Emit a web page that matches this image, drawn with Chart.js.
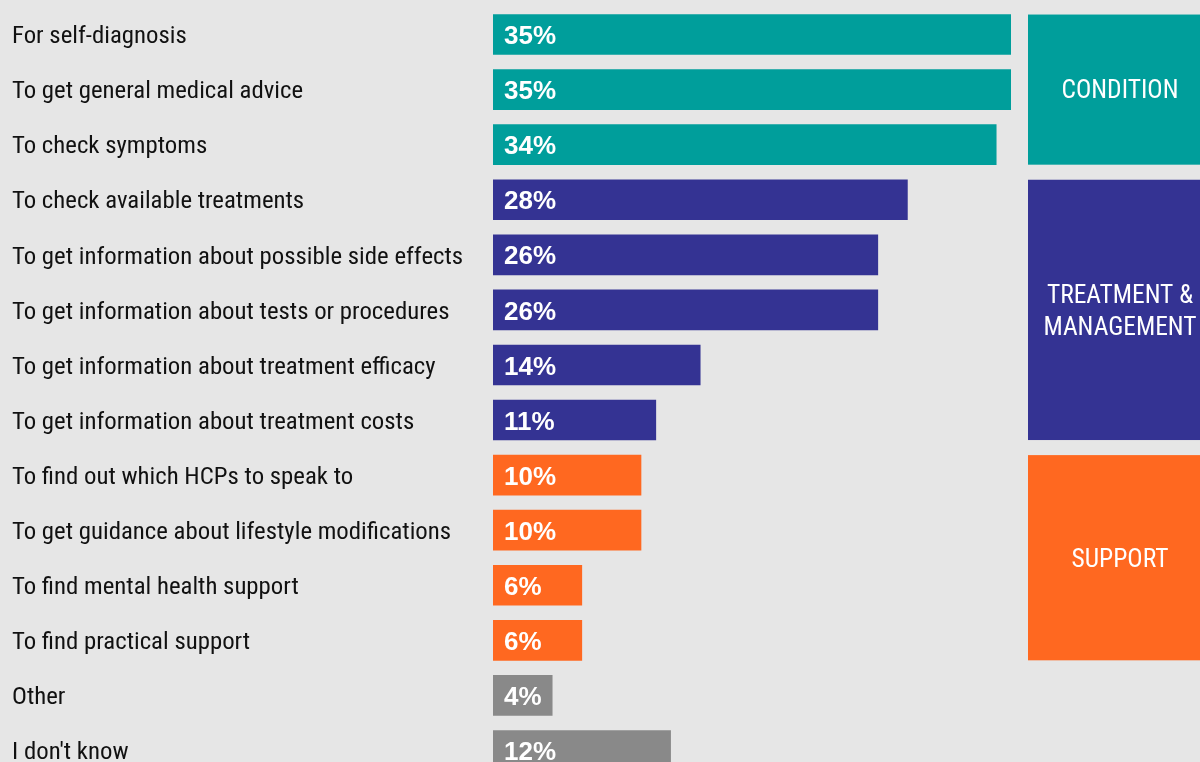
<!DOCTYPE html>
<html>
<head>
<meta charset="utf-8">
<script src="https://cdn.jsdelivr.net/npm/chart.js@4"></script>
<style>
html,body{margin:0;padding:0;background:#e6e6e6;overflow:hidden;width:1200px;height:762px;}
#wrap{position:relative;width:1200px;height:784px;}
canvas{display:block;}
</style>
</head>
<body>
<div id="wrap"><canvas id="c" width="1200" height="784"></canvas></div>
<script>
const categories = [
  "For self-diagnosis",
  "To get general medical advice",
  "To check symptoms",
  "To check available treatments",
  "To get information about possible side effects",
  "To get information about tests or procedures",
  "To get information about treatment efficacy",
  "To get information about treatment costs",
  "To find out which HCPs to speak to",
  "To get guidance about lifestyle modifications",
  "To find mental health support",
  "To find practical support",
  "Other",
  "I don't know"
];
const values = [35, 35, 34, 28, 26, 26, 14, 11, 10, 10, 6, 6, 4, 12];
const TEAL = "#009e9b", PURPLE = "#343393", ORANGE = "#ff6820", GREY = "#898989";
const barColors = [TEAL, TEAL, TEAL, PURPLE, PURPLE, PURPLE, PURPLE, PURPLE, ORANGE, ORANGE, ORANGE, ORANGE, GREY, GREY];
const groupNames = [["CONDITION"], ["TREATMENT &", "MANAGEMENT"], ["SUPPORT"]];
const groupFirst = [0, 3, 8];
const groupLast = [2, 7, 11];
const groupColors = [TEAL, PURPLE, ORANGE];

const LABEL_FONT = "'Roboto Condensed', 'Liberation Sans', sans-serif";
const BAR_THICK = 40;

const valueLabels = {
  id: 'valueLabels',
  afterDatasetsDraw(chart) {
    const ctx = chart.ctx;
    const meta = chart.getDatasetMeta(0);
    ctx.save();
    ctx.fillStyle = '#ffffff';
    ctx.font = "bold 26px 'Liberation Sans', Arial, sans-serif";
    ctx.textAlign = 'left';
    ctx.textBaseline = 'middle';
    meta.data.forEach((bar, i) => {
      ctx.fillText(values[i] + '%', bar.base + 11, bar.y + 2.5);
    });
    ctx.restore();
  }
};

const groupBlocks = {
  id: 'groupBlocks',
  afterDatasetsDraw(chart) {
    const ctx = chart.ctx;
    const y = chart.scales.y;
    const left = chart.chartArea.right + 17;
    const right = chart.width;
    ctx.save();
    groupNames.forEach((lines, g) => {
      const top = y.getPixelForValue(groupFirst[g]) - BAR_THICK / 2;
      const bottom = y.getPixelForValue(groupLast[g]) + BAR_THICK / 2;
      ctx.fillStyle = groupColors[g];
      ctx.fillRect(left, top, right - left, bottom - top);
      ctx.fillStyle = '#ffffff';
      ctx.font = "25.5px " + LABEL_FONT;
      ctx.textAlign = 'center';
      ctx.textBaseline = 'middle';
      const cx = left + 92;
      const cy = (top + bottom) / 2;
      const lh = 32;
      lines.forEach((t, k) => {
        ctx.fillText(t, cx, cy + 2.5 + (k - (lines.length - 1) / 2) * lh);
      });
    });
    ctx.restore();
  }
};

new Chart(document.getElementById('c'), {
  type: 'bar',
  data: {
    labels: categories,
    datasets: [{
      data: values,
      backgroundColor: barColors,
      borderWidth: 0,
      barThickness: BAR_THICK
    }]
  },
  options: {
    indexAxis: 'y',
    responsive: false,
    animation: false,
    layout: { padding: { left: 12, right: 189, top: 7, bottom: 6 } },
    plugins: { legend: { display: false }, tooltip: { enabled: false } },
    scales: {
      x: { display: false, min: 0, max: 35 },
      y: {
        grid: { display: false },
        border: { display: false },
        ticks: {
          crossAlign: 'far',
          padding: 0,
          labelOffset: 2.5,
          color: '#111111',
          font: { family: LABEL_FONT, size: 24.8, lineHeight: 0.4 }
        },
        afterFit(scale) { scale.width = 481; }
      }
    }
  },
  plugins: [valueLabels, groupBlocks]
});
</script>
</body>
</html>
